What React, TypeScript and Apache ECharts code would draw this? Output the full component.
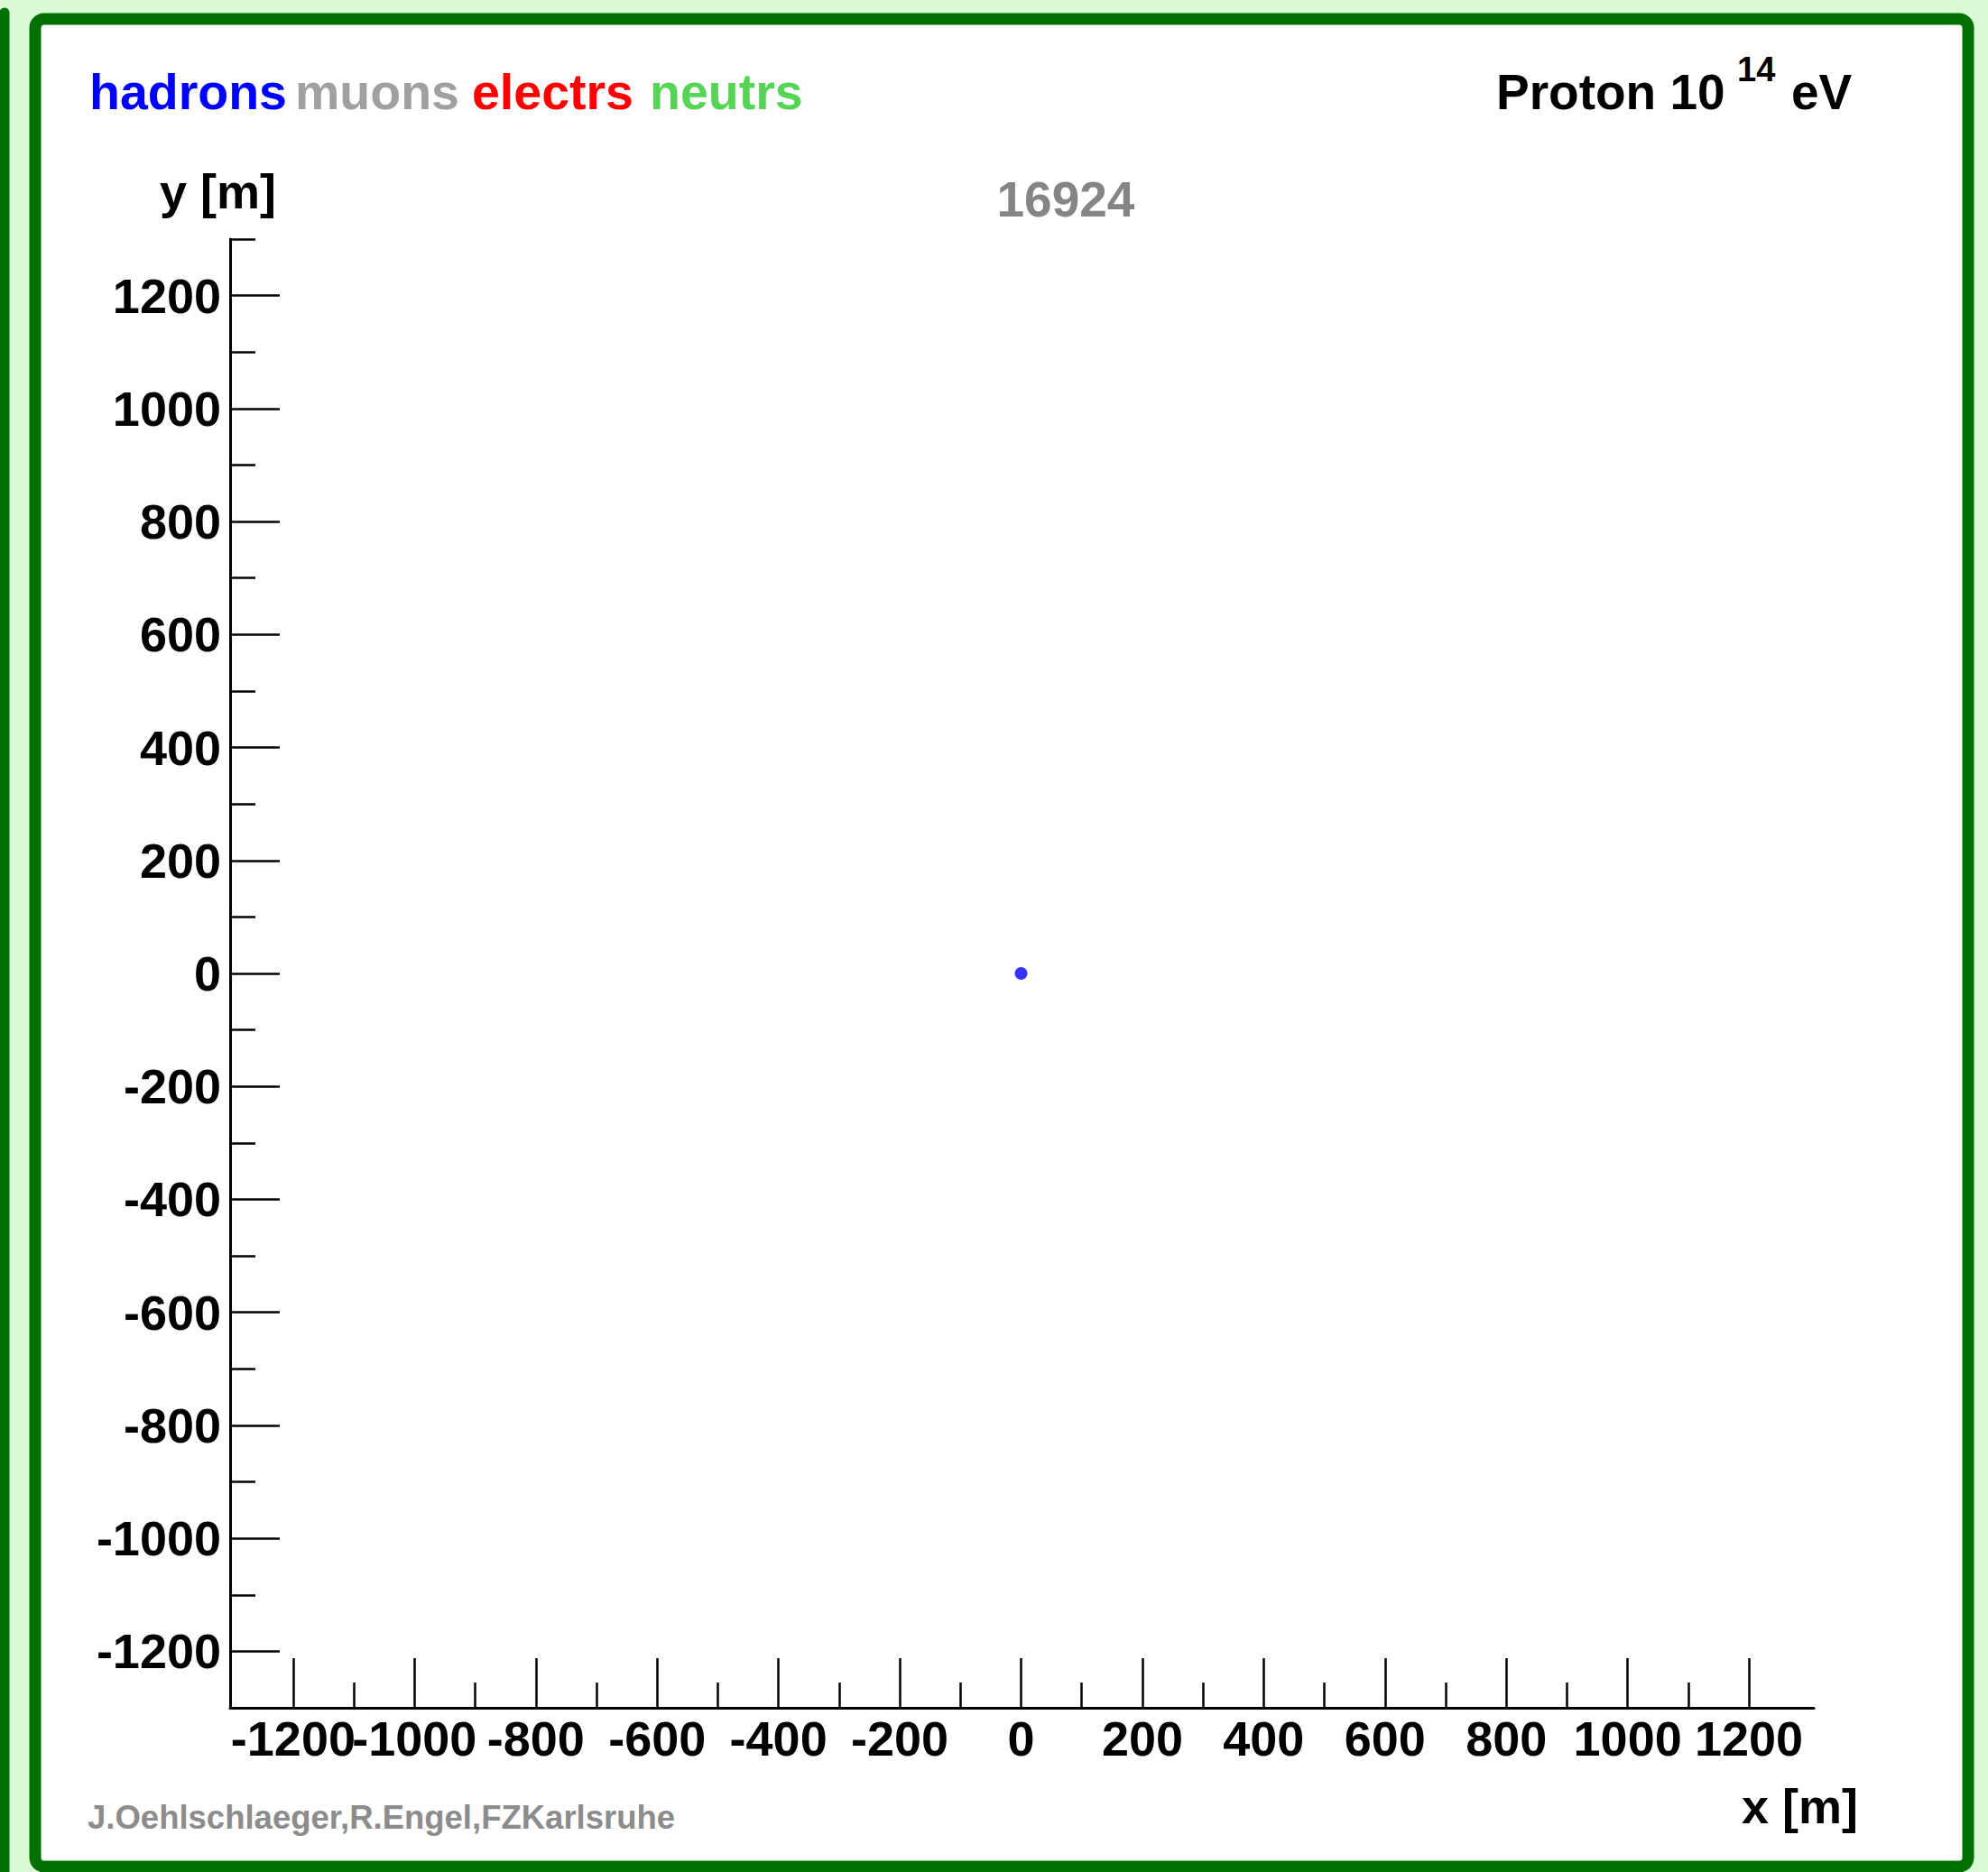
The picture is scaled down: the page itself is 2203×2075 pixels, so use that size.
import React, { useEffect, useRef } from "react";
import * as echarts from "echarts";

// ---- data ----
const hadronPoints: number[][] = [[0, 0]];
const particleNames = ["hadrons", "muons", "electrs", "neutrs"];
const particleColors = ["#0000ff", "#a0a0a0", "#ff0000", "#55d455"];
// x major ticks are split into two interleaved groups so adjacent labels never get culled
const xMajorTicksA = [-1200, -800, -400, 0, 400, 800, 1200];
const xMajorTicksB = [-1000, -600, -200, 200, 600, 1000];
const xMinorTicks = [-1100, -900, -700, -500, -300, -100, 100, 300, 500, 700, 900, 1100];
const yMajorTicks = [-1200, -1000, -800, -600, -400, -200, 0, 200, 400, 600, 800, 1000, 1200];
const yMinorTicks = [-1300, -1100, -900, -700, -500, -300, -100, 100, 300, 500, 700, 900, 1100, 1300];
const eventNumber = "16924";
const primaryLabel = "Proton 10";
const energyExponent = "14";
const energyUnit = "eV";
const credit = "J.Oehlschlaeger,R.Engel,FZKarlsruhe";
const xName = "x [m]";
const yName = "y [m]";

const FONT = "'Liberation Sans', Arial, Helvetica, sans-serif";
const CENTRAL = 0.3465; // central baseline offset (em)

export default function App() {
  const ref = useRef<HTMLDivElement>(null);
  useEffect(() => {
    if (!ref.current) return;
    const chart = echarts.init(ref.current, undefined, { renderer: "svg" });
    const legendLefts = [99, 327, 523, 720];
    const fsL = 55.5;
    const txt = (text: string, x: number, baseline: number, fs: number, fill: string, align = "left", z = 10) => ({
      type: "text",
      z,
      style: {
        text,
        x,
        y: baseline - CENTRAL * fs,
        fill,
        font: `bold ${fs}px ${FONT}`,
        textAlign: align,
        textVerticalAlign: "middle",
      },
    });
    const axisLine = { show: true, onZero: false, lineStyle: { color: "#000", width: 3 } };
    const fmt = (v: number) => String(v);
    const labelStyle = {
      show: true,
      color: "#000",
      fontSize: 54,
      fontWeight: "bold",
      fontFamily: FONT,
      formatter: fmt,
      hideOverlap: false,
      showMinLabel: true,
      showMaxLabel: true,
      interval: 0,
    };
    const tickLine = { color: "#000", width: 2.5 };
    const X_MIN = -1304;
    const X_MAX = 1307;
    const xMajorAxis = (vals: number[], showLine: boolean) => ({
      type: "value",
      min: X_MIN,
      max: X_MAX,
      position: "bottom",
      offset: 0,
      axisLine: showLine ? axisLine : { show: false, onZero: false },
      splitLine: { show: false },
      axisTick: { show: true, inside: true, length: 55, customValues: vals, lineStyle: tickLine },
      axisLabel: { ...labelStyle, customValues: vals, margin: 7 },
    });
    const option: any = {
      animation: false,
      backgroundColor: "#dafad6",
      grid: { left: 255, top: 265, width: 1755, height: 1628, containLabel: false },
      xAxis: [
        xMajorAxis(xMajorTicksA, true),
        xMajorAxis(xMajorTicksB, false),
        {
          type: "value",
          min: X_MIN,
          max: X_MAX,
          position: "bottom",
          offset: 0,
          axisLine: { show: false, onZero: false },
          splitLine: { show: false },
          axisLabel: { show: false },
          axisTick: { show: true, inside: true, length: 28, customValues: xMinorTicks, lineStyle: tickLine },
        },
      ],
      yAxis: [
        {
          type: "value",
          min: -1300,
          max: 1300,
          position: "left",
          axisLine,
          splitLine: { show: false },
          axisTick: { show: true, inside: true, length: 55, customValues: yMajorTicks, lineStyle: tickLine },
          axisLabel: { ...labelStyle, customValues: yMajorTicks, margin: 10, padding: [0, 0, 10, 0] },
        },
        {
          type: "value",
          min: -1300,
          max: 1300,
          position: "left",
          offset: 0,
          axisLine: { show: false, onZero: false },
          splitLine: { show: false },
          axisLabel: { show: false },
          axisTick: { show: true, inside: true, length: 28, customValues: yMinorTicks, lineStyle: tickLine },
        },
      ],
      series: [
        {
          name: particleNames[0],
          type: "scatter",
          xAxisIndex: 0,
          yAxisIndex: 0,
          data: hadronPoints,
          symbol: "circle",
          symbolSize: 14,
          itemStyle: { color: particleColors[0] },
          z: 5,
        },
      ],
      graphic: [
        {
          type: "line",
          z: -5,
          shape: { x1: 5, y1: 14, x2: 5, y2: 2090 },
          style: { stroke: "#007000", lineWidth: 11, lineCap: "round" },
        },
        {
          type: "rect",
          z: -5,
          shape: { x: 39, y: 21, width: 2142, height: 2048, r: 10 },
          style: { fill: "#ffffff", stroke: "#007000", lineWidth: 13 },
        },
        ...particleNames.map((n, i) => txt(n, legendLefts[i], 121, fsL, particleColors[i])),
        txt(primaryLabel, 1658, 121, 55, "#000"),
        txt(energyExponent, 1925, 90, 38, "#000"),
        txt(energyUnit, 1985, 121, 55, "#000"),
        txt(eventNumber, 1181, 240, 55, "#858585", "center"),
        txt(yName, 306, 231, 54, "#000", "right"),
        txt(xName, 2059, 2021, 54, "#000", "right"),
        txt(credit, 97, 2027, 36.5, "#8c8c8c"),
      ],
    };
    chart.setOption(option);
    return () => chart.dispose();
  }, []);
  return (
    <div
      ref={ref}
      style={{ position: "absolute", left: 0, top: 0, width: 2203, height: 2075 }}
    />
  );
}
